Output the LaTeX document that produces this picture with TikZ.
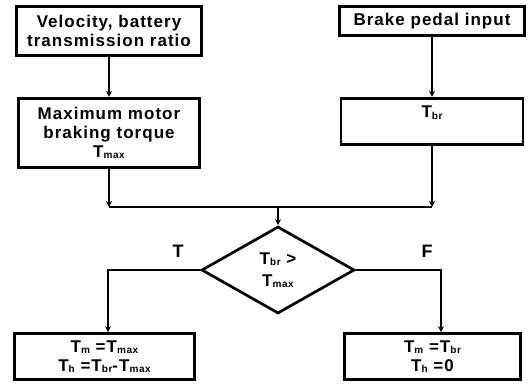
\documentclass[tikz,border=0pt]{standalone}
\usepackage{fontspec}
\setmainfont{Liberation Sans}[LetterSpace=6]
\usetikzlibrary{shapes.geometric, arrows.meta, positioning}
\newcommand\lowsub[1]{\raisebox{-1.5pt}{\fontsize{10}{10}\selectfont #1}}

\begin{document}
\begin{tikzpicture}[x=1pt, y=-1pt,
  box/.style={rectangle, draw, line width=2.7pt, align=center, inner sep=2pt, font=\fontsize{17}{19}\selectfont\bfseries},
  decision/.style={diamond, draw, line width=2.7pt, aspect=1.7, inner sep=0pt, minimum width=153pt, minimum height=87pt, align=center, font=\fontsize{17}{22}\selectfont\bfseries},
  arr/.style={-{Stealth[length=6pt, width=6pt]}, line width=2.7pt},
  lbl/.style={font=\fontsize{18}{20}\selectfont\bfseries}
]
\useasboundingbox (0,0) rectangle (529,385);
\node[box, minimum width=185pt, minimum height=49pt] (velocity) at (109,31) {Velocity, battery\\transmission ratio};
\node[box, minimum width=185pt, minimum height=29pt] (pedal) at (432,21) {Brake pedal input};
\node[box, minimum width=181pt, minimum height=69pt, below=40pt of velocity] (maxtorque) {Maximum motor\\braking torque\\T\lowsub{max}};
\node[box, minimum width=182pt, minimum height=46pt, below=60pt of pedal] (tbr) {T\lowsub{br}\\\mbox{}};
\draw[arr] (velocity) -- (maxtorque);
\draw[arr] (pedal.south) -- (pedal.south |- tbr.north);
% Decision
\node[decision] (check) at (278,270) {T\lowsub{br} >\\T\lowsub{max}};
\coordinate (merge) at (278,207);
\draw[arr] (maxtorque.south) -- (maxtorque.south |- merge);
\draw[arr] (tbr.south) -- (tbr.south |- merge);
\draw[line width=2.7pt] (maxtorque.south |- merge) -- (tbr.south |- merge);
\draw[arr] (merge) -- (check.north);
% Outputs
\node[box, minimum width=180pt, minimum height=46pt] (blend) at (104.5,356.5) {T\lowsub{m} =T\lowsub{max}\\T\lowsub{h} =T\lowsub{br}-T\lowsub{max}};
\node[box, minimum width=176pt, minimum height=46pt] (regen) at (432.5,356.5) {T\lowsub{m} =T\lowsub{br}\\T\lowsub{h} =0};
\coordinate (tturn) at (108,270);
\coordinate (fturn) at (441,270);
\draw[arr] (check.west) -- (tturn) -- (tturn |- blend.north);
\draw[arr] (check.east) -- (fturn) -- (fturn |- regen.north);
\node[lbl] (truetag) at (178,251) {T};
\node[lbl] (falsetag) at (427,251) {F};
\end{tikzpicture}
\end{document}
